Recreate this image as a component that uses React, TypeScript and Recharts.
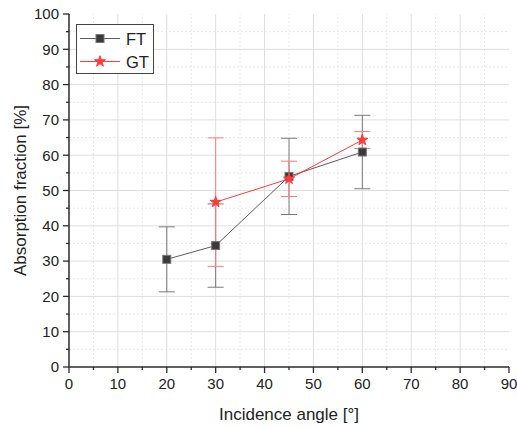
import React from "react";
import {
  ComposedChart,
  ErrorBar,
  Line,
  ReferenceLine,
  Symbols,
  XAxis,
  YAxis,
} from "recharts";

const ftAngle = [20, 30, 45, 60];
const ftValue = [30.5, 34.4, 54.0, 60.9];
const ftError = [9.2, 11.8, 10.8, 10.4];

const gtAngle = [30, 45, 60];
const gtValue = [46.7, 53.3, 64.3];
const gtError = [18.2, 5.0, 2.4];

const xTicks = [0, 5, 10, 15, 20, 25, 30, 35, 40, 45, 50, 55, 60, 65, 70, 75, 80, 85, 90];
const yTicks = [0, 5, 10, 15, 20, 25, 30, 35, 40, 45, 50, 55, 60, 65, 70, 75, 80, 85, 90, 95, 100];

const seriesNames = ["FT", "GT"];

const ftData = ftAngle.map((x, i) => ({ x, y: ftValue[i], err: ftError[i] }));
const gtData = gtAngle.map((x, i) => ({ x, y: gtValue[i], err: gtError[i] }));

const FONT = '"Liberation Sans", Arial, sans-serif';
const AXIS = "#2b2b2b";
const FT_COLOR = "#5c5c5c";
const GT_COLOR = "#ff3b3b";
const STAR_SIZE = 38;

const isMajor = (v: number) => v % 10 === 0;

function BottomTick({ x, y, payload }: any) {
  const major = isMajor(payload.value);
  return (
    <g>
      <line x1={x} x2={x} y1={y} y2={y + (major ? 6 : 3)} stroke={AXIS} strokeWidth={1.3} />
      {major && (
        <text x={x} y={y + 22} textAnchor="middle" fontSize={15} fill="#222" fontFamily={FONT}>
          {payload.value}
        </text>
      )}
    </g>
  );
}

function TopTick({ x, y, payload }: any) {
  const major = isMajor(payload.value);
  return <line x1={x} x2={x} y1={y} y2={y + (major ? 6 : 3)} stroke={AXIS} strokeWidth={1.3} />;
}

function LeftTick({ x, y, payload }: any) {
  const major = isMajor(payload.value);
  return (
    <g>
      <line x1={x} x2={x - (major ? 6 : 3)} y1={y} y2={y} stroke={AXIS} strokeWidth={1.3} />
      {major && (
        <text x={x - 10} y={y + 5.3} textAnchor="end" fontSize={15} fill="#222" fontFamily={FONT}>
          {payload.value}
        </text>
      )}
    </g>
  );
}

function RightTick({ x, y, payload }: any) {
  const major = isMajor(payload.value);
  return <line x1={x} x2={x - (major ? 6 : 3)} y1={y} y2={y} stroke={AXIS} strokeWidth={1.3} />;
}

function YLabel({ viewBox }: any) {
  const cx = viewBox.x + 20;
  const cy = viewBox.y + viewBox.height / 2;
  return (
    <text
      x={cx}
      y={cy}
      transform={`rotate(-90 ${cx} ${cy})`}
      textAnchor="middle"
      dominantBaseline="central"
      fontSize={17}
      fill="#222"
      fontFamily={FONT}
    >
      Absorption fraction [%]
    </text>
  );
}

function SquareDot({ cx, cy, index }: any) {
  return <rect key={`ft-${index}`} x={cx - 4} y={cy - 4} width={8} height={8} fill="#3a3a3a" stroke="#777" strokeWidth={1} />;
}

function StarDot({ cx, cy, index }: any) {
  return <Symbols key={`gt-${index}`} cx={cx} cy={cy} type="star" size={STAR_SIZE} fill={GT_COLOR} stroke={GT_COLOR} />;
}

function LegendBox() {
  return (
    <div
      style={{
        position: "absolute",
        left: 76,
        top: 24,
        width: 76,
        height: 48,
        border: "1px solid #444",
        background: "#fff",
      }}
    >
      <svg width={76} height={48}>
        {seriesNames.map((name, i) => {
          const y = i === 0 ? 13.5 : 36.5;
          const color = i === 0 ? FT_COLOR : GT_COLOR;
          return (
            <g key={name}>
              <line x1={3} x2={43} y1={y} y2={y} stroke={color} strokeWidth={1} />
              {i === 0 ? (
                <rect x={19} y={y - 4} width={8} height={8} fill="#3a3a3a" stroke="#777" />
              ) : (
                <Symbols cx={23} cy={y} type="star" size={STAR_SIZE} fill={GT_COLOR} stroke={GT_COLOR} />
              )}
              <text x={49} y={y + 6} fontSize={16.5} fill="#222" fontFamily={FONT}>
                {name}
              </text>
            </g>
          );
        })}
      </svg>
    </div>
  );
}

export default function App() {
  return (
    <div style={{ position: "absolute", left: 0, top: 0, width: 517, height: 428, background: "#fff" }}>
      <ComposedChart width={517} height={428} margin={{ top: 14, right: 8, bottom: 0, left: 0 }}>
        <XAxis
          xAxisId="bottom"
          type="number"
          dataKey="x"
          domain={[0, 90]}
          ticks={xTicks}
          interval={0}
          height={61}
          tickSize={0}
          tickMargin={0}
          tickLine={false}
          tick={<BottomTick />}
          axisLine={{ stroke: AXIS, strokeWidth: 1.5 }}
          label={{ value: "Incidence angle [°]", position: "insideBottom", offset: 8, fontSize: 17, fill: "#222", fontFamily: FONT }}
        />
        <XAxis
          xAxisId="top"
          orientation="top"
          type="number"
          dataKey="x"
          domain={[0, 90]}
          ticks={xTicks}
          interval={0}
          height={0}
          tickSize={0}
          tickMargin={0}
          tickLine={false}
          tick={<TopTick />}
          axisLine={{ stroke: AXIS, strokeWidth: 1.5 }}
        />
        <YAxis
          yAxisId="left"
          type="number"
          domain={[0, 100]}
          ticks={yTicks}
          interval={0}
          width={69}
          tickSize={0}
          tickMargin={0}
          tickLine={false}
          tick={<LeftTick />}
          axisLine={{ stroke: AXIS, strokeWidth: 1.5 }}
          label={<YLabel />}
        />
        <YAxis
          yAxisId="right"
          orientation="right"
          type="number"
          domain={[0, 100]}
          ticks={yTicks}
          interval={0}
          width={0}
          tickSize={0}
          tickMargin={0}
          tickLine={false}
          tick={<RightTick />}
          axisLine={{ stroke: AXIS, strokeWidth: 2 }}
        />

        {xTicks.slice(1, -1).map((v) => (
          <ReferenceLine
            key={`gx-${v}`}
            x={v}
            xAxisId="bottom"
            yAxisId="left"
            stroke={isMajor(v) ? "#dedede" : "#e8e8e8"}
            strokeDasharray={isMajor(v) ? undefined : "2 2"}
          />
        ))}
        {yTicks.slice(1, -1).map((v) => (
          <ReferenceLine
            key={`gy-${v}`}
            y={v}
            xAxisId="bottom"
            yAxisId="left"
            stroke={isMajor(v) ? "#dedede" : "#e8e8e8"}
            strokeDasharray={isMajor(v) ? undefined : "2 2"}
          />
        ))}

        <Line
          data={ftData}
          dataKey="y"
          xAxisId="bottom"
          yAxisId="left"
          name="FT"
          stroke={FT_COLOR}
          strokeWidth={1}
          dot={<SquareDot />}
          activeDot={false}
          isAnimationActive={false}
        >
          <ErrorBar dataKey="err" direction="y" width={8} stroke="#7a7a7a" strokeWidth={1} isAnimationActive={false} />
        </Line>
        <Line
          data={gtData}
          dataKey="y"
          xAxisId="bottom"
          yAxisId="left"
          name="GT"
          stroke={GT_COLOR}
          strokeWidth={1}
          dot={<StarDot />}
          activeDot={false}
          isAnimationActive={false}
        >
          <ErrorBar dataKey="err" direction="y" width={8} stroke="#ff7a7a" strokeWidth={1} isAnimationActive={false} />
        </Line>
      </ComposedChart>
      <LegendBox />
    </div>
  );
}
